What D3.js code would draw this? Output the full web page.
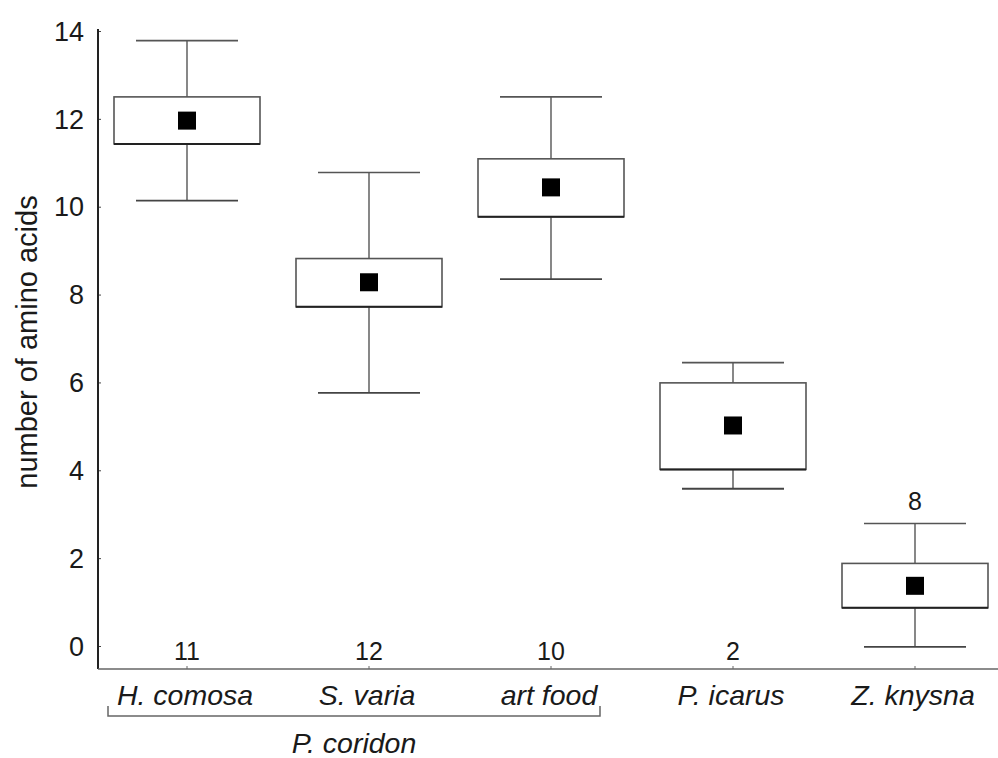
<!DOCTYPE html>
<html>
<head>
<meta charset="utf-8">
<script src="https://cdn.jsdelivr.net/npm/d3@7"></script>
<style>
    body { margin: 0; background: #fff; }
    text { font-family: Arial, "Liberation Sans", sans-serif; fill: #1a1a1a; }
</style>
</head>
<body>
<div id="chart"></div>
<script>
// categories and values
const categories = ['H. comosa', 'S. varia', 'art food', 'P. icarus', 'Z. knysna'];
const means      = [11.96, 8.28, 10.44, 5.02, 1.37];
const boxLow     = [11.43, 7.72, 9.77, 4.02, 0.87];
const boxHigh    = [12.50, 8.82, 11.09, 5.99, 1.88];
const whiskLow   = [10.14, 5.76, 8.35, 3.58, -0.02];
const whiskHigh  = [13.78, 10.78, 12.50, 6.45, 2.79];
const counts     = [11, 12, 10, 2, 8];
const yTicks     = [0, 2, 4, 6, 8, 10, 12, 14];
const groupName  = 'P. coridon';
const groupMembers = ['H. comosa', 'S. varia', 'art food'];

const width = 998, height = 758;

const svg = d3.select('#chart').append('svg')
    .attr('width', width)
    .attr('height', height);

const x = d3.scaleBand()
    .domain(categories)
    .range([96, 1006]);

const y = d3.scaleLinear()
    .domain([0, 14])
    .range([646, 31]);

const axisY = 669;   // x axis baseline
const axisX = 98;    // y axis position

// y axis
const yAxis = svg.append('g')
    .attr('transform', `translate(${axisX},0)`)
    .call(d3.axisRight(y).tickValues(yTicks).tickSize(3).tickFormat(''));
yAxis.select('.domain').remove();
yAxis.selectAll('.tick line').attr('stroke', '#444');

svg.append('line')
    .attr('x1', axisX).attr('x2', axisX)
    .attr('y1', 29).attr('y2', axisY)
    .attr('stroke', '#222')
    .attr('stroke-width', 2);

svg.append('g').selectAll('text')
    .data(yTicks)
    .enter()
    .append('text')
    .attr('x', 84)
    .attr('y', d => y(d))
    .attr('dy', '0.36em')
    .attr('text-anchor', 'end')
    .attr('font-size', '27px')
    .text(d => d);

svg.append('text')
    .attr('transform', `translate(37, 342) rotate(-90)`)
    .attr('text-anchor', 'middle')
    .attr('font-size', '29px')
    .text('number of amino acids');

// x axis
svg.append('line')
    .attr('x1', axisX).attr('x2', width)
    .attr('y1', axisY).attr('y2', axisY)
    .attr('stroke', '#666')
    .attr('stroke-width', 1.5);

svg.append('g').selectAll('line')
    .data(categories)
    .enter()
    .append('line')
    .attr('x1', d => x(d) + x.bandwidth() / 2)
    .attr('x2', d => x(d) + x.bandwidth() / 2)
    .attr('y1', axisY).attr('y2', axisY - 3)
    .attr('stroke', '#666');

svg.append('g').selectAll('text')
    .data(categories)
    .enter()
    .append('text')
    .attr('x', d => x(d) + x.bandwidth() / 2 - 2)
    .attr('y', 705)
    .attr('text-anchor', 'middle')
    .attr('font-size', '28.5px')
    .attr('font-style', 'italic')
    .text(d => d);

// group bracket under P. coridon
const gx0 = x(groupMembers[0]) + 12;
const gx1 = x(groupMembers[groupMembers.length - 1]) + x.bandwidth() - 42;
svg.append('path')
    .attr('d', `M${gx0},706V716H${gx1}V706`)
    .attr('fill', 'none')
    .attr('stroke', '#666')
    .attr('stroke-width', 1.5);

svg.append('text')
    .attr('x', (gx0 + gx1) / 2)
    .attr('y', 753)
    .attr('text-anchor', 'middle')
    .attr('font-size', '28.5px')
    .attr('font-style', 'italic')
    .text(groupName);

// boxes
const boxHalf = 73, capHalf = 51, markSize = 18;
const rows = categories.map((c, i) => ({
    cat: c, mean: means[i], lo: boxLow[i], hi: boxHigh[i],
    wlo: whiskLow[i], whi: whiskHigh[i], n: counts[i]
}));

const g = svg.append('g').selectAll('g')
    .data(rows)
    .enter()
    .append('g')
    .attr('transform', d => `translate(${x(d.cat) + x.bandwidth() / 2},0)`);

g.append('line')
    .attr('x1', 0).attr('x2', 0)
    .attr('y1', d => y(d.whi)).attr('y2', d => y(d.wlo))
    .attr('stroke', '#555').attr('stroke-width', 1.4);

g.append('line')
    .attr('x1', -capHalf).attr('x2', capHalf)
    .attr('y1', d => y(d.whi)).attr('y2', d => y(d.whi))
    .attr('stroke', '#555').attr('stroke-width', 1.6);

g.append('line')
    .attr('x1', -capHalf).attr('x2', capHalf)
    .attr('y1', d => y(d.wlo)).attr('y2', d => y(d.wlo))
    .attr('stroke', '#444').attr('stroke-width', 1.8);

g.append('rect')
    .attr('x', -boxHalf)
    .attr('width', boxHalf * 2)
    .attr('y', d => y(d.hi))
    .attr('height', d => y(d.lo) - y(d.hi))
    .attr('fill', '#fff')
    .attr('stroke', '#555')
    .attr('stroke-width', 1.6);

g.append('line')
    .attr('x1', -boxHalf).attr('x2', boxHalf)
    .attr('y1', d => y(d.lo)).attr('y2', d => y(d.lo))
    .attr('stroke', '#222').attr('stroke-width', 2);

g.append('rect')
    .attr('x', -markSize / 2)
    .attr('y', d => y(d.mean) - markSize / 2)
    .attr('width', markSize)
    .attr('height', markSize)
    .attr('fill', '#000');

// sample sizes: near the baseline, or above the whisker when it reaches zero
g.append('text')
    .attr('x', 0)
    .attr('y', d => d.wlo < 0.5 ? y(d.whi) - 13 : 660)
    .attr('text-anchor', 'middle')
    .attr('font-size', '25px')
    .text(d => d.n);
</script>
</body>
</html>
